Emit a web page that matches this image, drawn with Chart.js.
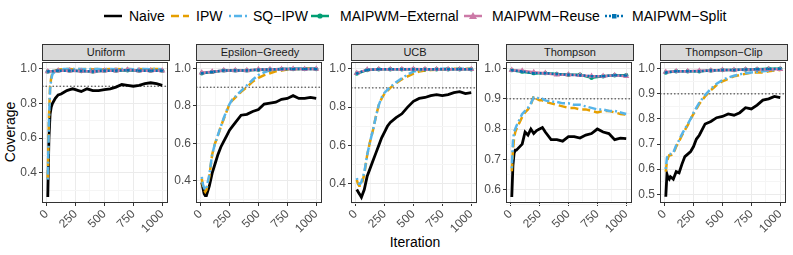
<!DOCTYPE html>
<html>
<head>
  <title>Coverage by iteration</title>
  <script src="https://cdn.jsdelivr.net/npm/chart.js"></script>
  <style>
    body {
      margin: 0;
      width: 793px;
      height: 255px;
      overflow: hidden;
      background: white;
      position: relative;
      font-family: 'Liberation Sans', Arial, sans-serif;
    }
    .lkey, .ltext {
      position: absolute;
      top: 8px;
      height: 16px;
      line-height: 16px;
      font-size: 14px;
      color: #000;
      white-space: nowrap;
    }
    .lkey svg { display: block; margin-top: 2px; }
    .strip {
      position: absolute;
      top: 44px;
      height: 17px;
      box-sizing: border-box;
      border: 1px solid #333;
      background: #d9d9d9;
      color: #1a1a1a;
      font-size: 11px;
      text-align: center;
      line-height: 15px;
    }
    .panel {
      position: absolute;
      top: 58px;
    }
    .ytitle {
      position: absolute;
      left: 10px;
      top: 132px;
      transform: translate(-50%, -50%) rotate(-90deg);
      font-size: 14px;
      white-space: nowrap;
    }
    .xtitle {
      position: absolute;
      left: 415px;
      top: 242px;
      transform: translate(-50%, -50%);
      font-size: 14px;
    }
  </style>
</head>
<body>

  <div class="ytitle">Coverage</div>
  <div class="xtitle">Iteration</div>

  <script>
    // iterations for the naive / ipw curves, and for the MAIPWM curves (marked points)
    const iters = [10, 20, 30, 40, 50, 75, 100, 125, 150, 175, 200, 225, 250, 275, 300, 350, 400, 450, 500, 550, 600, 650, 700, 750, 800, 850, 900, 950, 1000];
    const maiIters = [10, 100, 200, 300, 400, 500, 600, 700, 800, 900, 1000];

    const panelNames = ['Uniform', 'Epsilon\u2212Greedy', 'UCB', 'Thompson', 'Thompson\u2212Clip'];

    const naive = [
      [0.26, 0.6, 0.74, 0.78, 0.8, 0.83, 0.85, 0.855, 0.865, 0.875, 0.88, 0.885, 0.88, 0.875, 0.87, 0.885, 0.875, 0.875, 0.88, 0.885, 0.895, 0.91, 0.905, 0.9, 0.905, 0.915, 0.92, 0.915, 0.905],
      [0.39, 0.36, 0.33, 0.32, 0.32, 0.37, 0.44, 0.49, 0.54, 0.58, 0.61, 0.64, 0.67, 0.69, 0.71, 0.75, 0.755, 0.77, 0.78, 0.81, 0.815, 0.82, 0.835, 0.84, 0.855, 0.84, 0.84, 0.845, 0.84],
      [0.37, 0.36, 0.35, 0.34, 0.33, 0.37, 0.44, 0.48, 0.52, 0.56, 0.6, 0.64, 0.67, 0.7, 0.72, 0.745, 0.765, 0.8, 0.83, 0.845, 0.85, 0.86, 0.865, 0.86, 0.865, 0.875, 0.88, 0.87, 0.875],
      [0.575, 0.68, 0.72, 0.73, 0.73, 0.74, 0.75, 0.79, 0.78, 0.8, 0.785, 0.795, 0.8, 0.805, 0.79, 0.765, 0.765, 0.76, 0.775, 0.775, 0.77, 0.78, 0.785, 0.8, 0.79, 0.785, 0.765, 0.77, 0.768],
      [0.49, 0.58, 0.565, 0.56, 0.57, 0.56, 0.59, 0.585, 0.62, 0.65, 0.66, 0.67, 0.69, 0.72, 0.735, 0.78, 0.79, 0.805, 0.81, 0.82, 0.815, 0.825, 0.845, 0.84, 0.855, 0.875, 0.88, 0.89, 0.885]
    ];

    const ipw = [
      [0.37, 0.72, 0.9, 0.95, 0.975, 0.99, 0.995, 0.998, 1.0, 1.0, 1.0, 0.998, 1.0, 1.0, 0.998, 1.0, 0.998, 1.0, 0.998, 1.0, 1.0, 0.998, 1.0, 0.998, 1.0, 0.998, 1.0, 1.0, 0.998],
      [0.41, 0.37, 0.35, 0.34, 0.35, 0.42, 0.54, 0.6, 0.64, 0.69, 0.73, 0.77, 0.81, 0.83, 0.845, 0.875, 0.9, 0.93, 0.95, 0.965, 0.975, 0.985, 0.99, 0.995, 0.998, 0.998, 1.0, 1.0, 1.0],
      [0.42, 0.4, 0.39, 0.39, 0.39, 0.45, 0.55, 0.62, 0.68, 0.75, 0.81, 0.845, 0.87, 0.885, 0.9, 0.925, 0.945, 0.96, 0.975, 0.985, 0.99, 0.993, 0.995, 0.997, 1.0, 1.0, 1.0, 1.0, 1.0],
      [0.66, 0.73, 0.77, 0.79, 0.8, 0.82, 0.84, 0.855, 0.865, 0.88, 0.91, 0.9, 0.895, 0.895, 0.89, 0.885, 0.88, 0.875, 0.87, 0.87, 0.865, 0.865, 0.86, 0.855, 0.86, 0.86, 0.855, 0.85, 0.848],
      [0.59, 0.63, 0.645, 0.655, 0.655, 0.66, 0.69, 0.71, 0.735, 0.755, 0.775, 0.8, 0.82, 0.84, 0.86, 0.89, 0.915, 0.935, 0.95, 0.96, 0.97, 0.975, 0.98, 0.985, 0.985, 0.985, 0.99, 0.993, 0.995]
    ];

    const sqIpw = [
      [0.36, 0.7, 0.88, 0.94, 0.97, 0.985, 0.993, 0.997, 0.999, 1.0, 1.0, 1.0, 0.998, 1.0, 1.0, 0.998, 1.0, 1.0, 0.998, 1.0, 0.998, 1.0, 1.0, 0.998, 1.0, 1.0, 0.998, 1.0, 0.998],
      [0.42, 0.38, 0.36, 0.35, 0.36, 0.43, 0.54, 0.6, 0.645, 0.69, 0.735, 0.775, 0.81, 0.835, 0.85, 0.88, 0.91, 0.94, 0.965, 0.98, 0.99, 0.995, 0.997, 1.0, 1.0, 1.0, 1.0, 1.0, 1.0],
      [0.43, 0.41, 0.4, 0.4, 0.41, 0.46, 0.55, 0.62, 0.68, 0.75, 0.81, 0.85, 0.875, 0.89, 0.905, 0.93, 0.95, 0.97, 0.985, 0.99, 0.995, 0.997, 0.998, 1.0, 1.0, 1.0, 1.0, 1.0, 1.0],
      [0.67, 0.76, 0.79, 0.8, 0.81, 0.83, 0.85, 0.86, 0.87, 0.885, 0.905, 0.905, 0.9, 0.9, 0.895, 0.89, 0.89, 0.885, 0.885, 0.88, 0.88, 0.875, 0.87, 0.865, 0.865, 0.86, 0.86, 0.855, 0.85],
      [0.6, 0.645, 0.655, 0.66, 0.66, 0.665, 0.695, 0.715, 0.74, 0.76, 0.78, 0.8, 0.825, 0.845, 0.865, 0.895, 0.92, 0.94, 0.955, 0.965, 0.972, 0.978, 0.982, 0.985, 0.988, 0.99, 0.993, 0.995, 0.998]
    ];

    const maiExternal = [
      [0.985, 0.99, 0.99, 0.988, 0.985, 0.99, 0.99, 0.992, 0.99, 0.99, 0.99],
      [0.975, 0.982, 0.99, 0.99, 0.99, 0.993, 0.995, 0.997, 0.997, 0.997, 0.997],
      [0.975, 0.993, 0.997, 0.997, 0.997, 0.997, 0.997, 0.997, 0.997, 0.997, 0.997],
      [0.995, 0.99, 0.985, 0.985, 0.982, 0.98, 0.98, 0.97, 0.975, 0.978, 0.978],
      [0.985, 0.99, 0.99, 0.99, 0.993, 0.995, 0.995, 0.997, 0.998, 1.0, 1.0]
    ];

    const maiReuse = [
      [0.985, 0.99, 0.99, 0.988, 0.985, 0.99, 0.99, 0.995, 0.99, 0.99, 0.99],
      [0.978, 0.983, 0.99, 0.99, 0.99, 0.995, 0.995, 0.997, 0.998, 0.997, 0.998],
      [0.977, 0.995, 0.997, 0.997, 0.997, 0.998, 0.997, 0.997, 0.997, 0.997, 0.997],
      [0.995, 0.993, 0.988, 0.985, 0.98, 0.98, 0.978, 0.975, 0.975, 0.978, 0.975],
      [0.987, 0.99, 0.99, 0.992, 0.993, 0.995, 0.995, 0.997, 0.997, 0.998, 0.998]
    ];

    const maiSplit = [
      [0.985, 0.99, 0.99, 0.988, 0.985, 0.99, 0.99, 0.993, 0.99, 0.99, 0.99],
      [0.975, 0.982, 0.99, 0.99, 0.99, 0.994, 0.995, 0.997, 0.997, 0.997, 0.997],
      [0.975, 0.994, 0.997, 0.997, 0.997, 0.997, 0.997, 0.997, 0.997, 0.997, 0.997],
      [0.995, 0.99, 0.985, 0.985, 0.982, 0.98, 0.978, 0.975, 0.975, 0.978, 0.977],
      [0.985, 0.99, 0.99, 0.99, 0.993, 0.995, 0.995, 0.997, 0.998, 0.999, 1.0]
    ];

    const nominalLevel = 0.9;

    // axis limits and breaks (free y scales per facet)
    const xLimits = [-40, 1050];
    const xMajor = [0, 250, 500, 750, 1000];
    const xMinor = [125, 375, 625, 875];
    const yLimits = [[0.225, 1.04], [0.28, 1.035], [0.30, 1.035], [0.555, 1.022], [0.465, 1.027]];
    const yMajor = [
      [0.4, 0.6, 0.8, 1.0], [0.4, 0.6, 0.8, 1.0], [0.4, 0.6, 0.8, 1.0],
      [0.6, 0.7, 0.8, 0.9, 1.0], [0.5, 0.6, 0.7, 0.8, 0.9, 1.0]
    ];
    const yMinor = [
      [0.3, 0.5, 0.7, 0.9], [0.3, 0.5, 0.7, 0.9], [0.3, 0.5, 0.7, 0.9],
      [0.55, 0.65, 0.75, 0.85, 0.95], [0.55, 0.65, 0.75, 0.85, 0.95]
    ];

    // series styling
    const series = [
      { label: 'Naive', color: '#000000', dash: [], point: false },
      { label: 'IPW', color: '#E69F00', dash: [8, 4], point: false },
      { label: 'SQ\u2212IPW', color: '#56B4E9', dash: [2, 3, 8, 3], point: false },
      { label: 'MAIPWM\u2212External', color: '#009E73', dash: [], point: 'circle', r: 2.2 },
      { label: 'MAIPWM\u2212Reuse', color: '#CC79A7', dash: [], point: 'triangle', r: 3.6 },
      { label: 'MAIPWM\u2212Split', color: '#0072B2', dash: [2, 2], point: 'rect', r: 1.6 }
    ];

    // legend placement (key left, text left)
    const legendKeyX = [104, 171, 229, 311, 464, 605];
    const legendTextX = [129, 196, 253, 340, 492, 632];

    const panelLefts = [42, 196, 351, 506, 660];
    const panelW = 128, panelH = 143, yAxisW = 30, xAxisH = 40;

    // legend
    series.forEach((s, i) => {
      const key = document.createElement('div');
      key.className = 'lkey';
      key.style.left = legendKeyX[i] + 'px';
      let mark = '';
      if (s.point === 'circle') mark = `<circle cx="9" cy="6" r="2.6" fill="${s.color}"/>`;
      if (s.point === 'triangle') mark = `<polygon points="9,2 13,9 5,9" fill="${s.color}"/>`;
      if (s.point === 'rect') mark = `<rect x="7" y="4" width="4.5" height="4.5" fill="${s.color}"/>`;
      const dash = s.dash.length ? `stroke-dasharray="${s.dash.join(' ')}"` : '';
      key.innerHTML = `<svg width="18" height="12"><line x1="0" y1="6" x2="18" y2="6" stroke="${s.color}" stroke-width="2.5" ${dash}/>${mark}</svg>`;
      document.body.appendChild(key);

      const text = document.createElement('div');
      text.className = 'ltext';
      text.style.left = legendTextX[i] + 'px';
      text.textContent = s.label;
      document.body.appendChild(text);
    });

    const framePlugin = {
      id: 'frame',
      beforeDatasetsDraw(chart) {
        const { ctx, chartArea: a, scales } = chart;
        const y = scales.y.getPixelForValue(nominalLevel);
        ctx.save();
        ctx.strokeStyle = '#000';
        ctx.lineWidth = 0.8;
        ctx.setLineDash([1.5, 2]);
        ctx.beginPath();
        ctx.moveTo(a.left, y);
        ctx.lineTo(a.right, y);
        ctx.stroke();
        ctx.restore();
      },
      afterDraw(chart) {
        const { ctx, chartArea: a } = chart;
        ctx.save();
        ctx.strokeStyle = '#333';
        ctx.lineWidth = 1;
        ctx.strokeRect(a.left + 0.5, a.top + 0.5, a.right - a.left - 1, a.bottom - a.top - 1);
        ctx.restore();
      }
    };

    function toPoints(xs, ys) {
      return xs.map((x, i) => ({ x: x, y: ys[i] }));
    }

    const tickFont = { family: "'Liberation Sans', Arial, sans-serif", size: 12 };

    panelNames.forEach((name, p) => {
      const strip = document.createElement('div');
      strip.className = 'strip';
      strip.style.left = panelLefts[p] + 'px';
      strip.style.width = panelW + 'px';
      strip.textContent = name;
      document.body.appendChild(strip);

      const holder = document.createElement('div');
      holder.className = 'panel';
      holder.style.left = (panelLefts[p] - yAxisW) + 'px';
      const canvas = document.createElement('canvas');
      canvas.width = yAxisW + panelW + 2;
      canvas.height = 2 + panelH + xAxisH;
      holder.appendChild(canvas);
      document.body.appendChild(holder);

      const values = [naive[p], ipw[p], sqIpw[p], maiExternal[p], maiReuse[p], maiSplit[p]];
      const datasets = series.map((s, k) => ({
        label: s.label,
        data: toPoints(s.point ? maiIters : iters, values[k]),
        borderColor: s.color,
        backgroundColor: s.color,
        borderWidth: k === 0 ? 2.8 : 2.5,
        borderDash: s.dash,
        pointStyle: s.point || 'circle',
        pointRadius: s.point ? s.r : 0,
        pointBorderWidth: 0,
        tension: 0
      })).reverse(); // Chart.js paints the first dataset last, so later series end up on top

      const yTicks = yMajor[p].concat(yMinor[p]).sort((a, b) => a - b);
      const xTicks = xMajor.concat(xMinor).sort((a, b) => a - b);

      new Chart(canvas.getContext('2d'), {
        type: 'line',
        data: { datasets },
        options: {
          responsive: false,
          animation: false,
          layout: { padding: { top: 2, right: 2, left: 0, bottom: 0 } },
          plugins: { legend: { display: false }, tooltip: { enabled: false } },
          scales: {
            x: {
              type: 'linear',
              min: xLimits[0],
              max: xLimits[1],
              afterBuildTicks: s => { s.ticks = xTicks.map(v => ({ value: v })); },
              afterFit: s => { s.height = xAxisH; s.paddingLeft = 0; s.paddingRight = 0; },
              border: { display: false },
              grid: {
                color: c => xMajor.includes(c.tick.value) ? '#ebebeb' : '#f5f5f5',
                tickColor: c => xMajor.includes(c.tick.value) ? '#333' : 'rgba(0,0,0,0)',
                tickLength: 3,
                lineWidth: 1
              },
              ticks: {
                autoSkip: false,
                minRotation: 45,
                maxRotation: 45,
                padding: 1,
                color: '#4d4d4d',
                font: tickFont,
                callback: v => xMajor.includes(v) ? String(v) : ''
              }
            },
            y: {
              type: 'linear',
              min: yLimits[p][0],
              max: yLimits[p][1],
              afterBuildTicks: s => { s.ticks = yTicks.map(v => ({ value: v })); },
              afterFit: s => { s.width = yAxisW; s.paddingTop = 0; s.paddingBottom = 0; },
              border: { display: false },
              grid: {
                color: c => yMajor[p].includes(c.tick.value) ? '#ebebeb' : '#f5f5f5',
                tickColor: c => yMajor[p].includes(c.tick.value) ? '#333' : 'rgba(0,0,0,0)',
                tickLength: 3,
                lineWidth: 1
              },
              ticks: {
                autoSkip: false,
                padding: 2,
                color: '#4d4d4d',
                font: tickFont,
                callback: v => yMajor[p].includes(v) ? v.toFixed(1) : ''
              }
            }
          }
        },
        plugins: [framePlugin]
      });
    });
  </script>
</body>
</html>
